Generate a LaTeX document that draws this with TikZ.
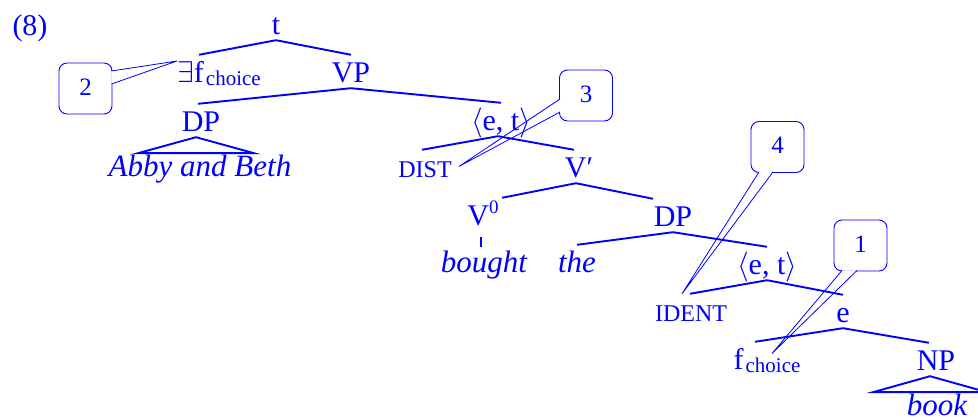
\RequirePackage{fix-cm}
\documentclass[tikz,border=0pt]{standalone}
\usepackage{fontspec}
\setmainfont{Liberation Serif}
\usetikzlibrary{backgrounds}

\tikzset{
  cat/.style={inner xsep=0pt, inner ysep=4pt, text height=24pt, text depth=1pt,
    anchor=base, font=\fontsize{30}{30}\selectfont},
  feat/.style={cat, font=\fontsize{24}{24}\selectfont},
  leaf/.style={cat, font=\fontsize{31}{31}\selectfont\itshape},
  numbox/.style={draw=blue, text=blue, line width=0.9pt, rounded corners=8pt,
    fill=white, minimum width=53pt, minimum height=51pt, inner sep=0pt,
    text height=17pt, text depth=3pt, font=\fontsize{25}{25}\selectfont},
  branch/.style={draw=blue, line width=1.9pt},
  pointer/.style={draw=blue, line width=0.8pt, fill=white},
}
\newcommand{\lowsub}[1]{\kern2pt\raisebox{-3pt}{\fontsize{21}{21}\selectfont #1}}
\newcommand{\highsup}[1]{\raisebox{12pt}{\fontsize{19}{19}\selectfont #1}}

\begin{document}
\begin{tikzpicture}[x=1pt, y=-1pt, blue]
\clip (0,0) rectangle (978,419);

\node[cat] (ex) at (30,36) {(8)};

% the tree
\node[cat]  (t)      at (276,35)  {t};
\node[cat]  (ef)     at (219,83)  {$\exists$f\lowsub{choice}};
\node[cat]  (vp)     at (351,83)  {VP};
\node[cat]  (dpa)    at (201,132) {DP};
\node[leaf] (abby)   at (200,177) {Abby and Beth};
\node[cat]  (eta)    at (501,131) {$\langle$e, t$\rangle$};
\node[feat] (dist)   at (425,178) {DIST};
\node[cat]  (vbar)   at (579,178) {V′};
\node[cat]  (vzero)  at (483,226) {V\highsup{0}};
\node[leaf] (bought) at (484,273) {bought};
\node[cat]  (dpb)    at (673,227) {DP};
\node[leaf] (the)    at (577,273) {the};
\node[cat]  (etb)    at (767,275) {$\langle$e, t$\rangle$};
\node[feat] (ident)  at (691,322) {IDENT};
\node[cat]  (e)      at (843,323) {e};
\node[cat]  (fc)     at (767,370) {f\lowsub{choice}};
\node[cat]  (np)     at (936,371) {NP};
\node[leaf] (book)   at (937,416) {book};

\draw[branch] (t.south) -- ([xshift=-20pt]ef.north);
\draw[branch] (t.south) -- (vp.north);
\draw[branch] (vp.south) -- ([xshift=-3pt]dpa.north);
\draw[branch] (vp.south) -- (eta.north);
\draw[branch] ([xshift=-5pt]dpa.south) -- ++(-58,16) -- ++(116,0) -- cycle;
\draw[branch] ([xshift=-3pt]eta.south) -- ([xshift=-3pt]dist.north);
\draw[branch] ([xshift=-3pt]eta.south) -- ([xshift=-5pt]vbar.north);
\draw[branch] ([xshift=-3pt]vbar.south) -- ([xshift=19pt]vzero.north);
\draw[branch] ([xshift=-3pt]vbar.south) -- ([xshift=-20pt]dpb.north);
\draw[branch] ([xshift=-2pt,yshift=-6pt]vzero.south) -- ([xshift=-3pt,yshift=-2pt]bought.north);
\draw[branch] (dpb.south) -- (the.north);
\draw[branch] (dpb.south) -- (etb.north);
\draw[branch] (etb.south) -- ([xshift=-1pt]ident.north);
\draw[branch] (etb.south) -- (e.north);
\draw[branch] (e.south) -- ([xshift=-12pt]fc.north);
\draw[branch] (e.south) -- ([xshift=-7pt]np.north);
\draw[branch] ([xshift=-6pt]np.south) -- ++(-57,16) -- ++(114,0) -- cycle;

% numbered callouts
\begin{scope}[on background layer]
\node[numbox] (b2) at (85.5,88.5)  {2};
\node[numbox] (b3) at (586,95.5)   {3};
\node[numbox] (b4) at (777.5,147)  {4};
\node[numbox] (b1) at (860.5,245.5) {1};
\draw[pointer] ([xshift=-1pt,yshift=17.5pt]b2.east) -- ([yshift=10.5pt]ef.west)
  -- ([xshift=-1pt,yshift=4.5pt]b2.east);
\draw[pointer] ([xshift=1pt,yshift=-3.5pt]b3.west) -- ([xshift=7pt]dist.east)
  -- ([xshift=1pt,yshift=-16.5pt]b3.west);
\draw[pointer] ([xshift=-18.5pt,yshift=1pt]b4.south) -- ([xshift=-9pt]ident.north)
  -- ([xshift=-4.5pt,yshift=1pt]b4.south);
\draw[pointer] ([xshift=-18.5pt,yshift=1pt]b1.south) -- ([xshift=5pt,yshift=5pt]fc.center)
  -- ([xshift=-3.5pt,yshift=1pt]b1.south);
\end{scope}
\end{tikzpicture}
\end{document}
